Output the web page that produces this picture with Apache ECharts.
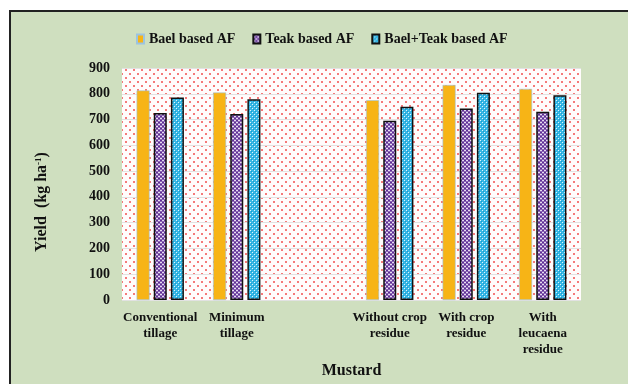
<!DOCTYPE html>
<html lang="en">
<head>
    <meta charset="UTF-8">
    <title>Mustard yield</title>
    <script src="https://cdn.jsdelivr.net/npm/echarts@6/dist/echarts.min.js"></script>
    <style>
        html, body { margin: 0; padding: 0; background: #fff; }
    </style>
</head>
<body>
<div id="echarts" style="width: 628px;height:384px"></div>
<script>
    // data
    var categories = ['Conventional\ntillage', 'Minimum\ntillage', '', 'Without crop\nresidue', 'With crop\nresidue', 'With\nleucaena\nresidue'];
    var baelAF = [813, 805, null, 775, 834, 819];
    var teakAF = [725, 722, null, 695, 743, 730];
    var baelTeakAF = [786, 779, null, 750, 804, 794];
    var yTicks = [0, 100, 200, 300, 400, 500, 600, 700, 800, 900];

    var serif = '"Liberation Serif", "Times New Roman", serif';

    function makePattern(w, h, bg, draw) {
        var c = document.createElement('canvas');
        c.width = w;
        c.height = h;
        var ctx = c.getContext('2d');
        ctx.fillStyle = bg;
        ctx.fillRect(0, 0, w, h);
        draw(ctx);
        return { image: c, repeat: 'repeat' };
    }

    // red dotted plot background
    var dots = makePattern(8, 8, '#fffcfc', function (ctx) {
        ctx.fillStyle = '#f47a7a';
        ctx.fillRect(1, 1, 2, 2);
        ctx.fillRect(5, 5, 2, 2);
    });

    // purple bar fill
    var purple = makePattern(4, 4, '#8c68b4', function (ctx) {
        ctx.fillStyle = '#5e2e96';
        ctx.fillRect(0, 0, 2, 1);
        ctx.fillRect(2, 2, 2, 1);
        ctx.fillStyle = '#e6dcf2';
        ctx.fillRect(2, 0, 2, 1);
        ctx.fillRect(0, 2, 2, 1);
    });

    // cyan bar fill
    var cyan = makePattern(4, 4, '#38b8e6', function (ctx) {
        ctx.fillStyle = '#e0f5fc';
        ctx.fillRect(0, 0, 1, 1);
        ctx.fillRect(2, 2, 1, 1);
        ctx.fillStyle = '#1a9ccc';
        ctx.fillRect(1, 1, 1, 1);
        ctx.fillRect(3, 3, 1, 1);
    });

    var chartDom = document.getElementById('echarts');
    var myChart = echarts.init(chartDom);
    var option;

    option = {
        backgroundColor: '#ffffff',
        animation: false,
        graphic: [
            {
                type: 'rect',
                z: -10,
                shape: { x: 10, y: 11, width: 640, height: 400 },
                style: { fill: '#cfdfbf', stroke: '#222222', lineWidth: 2 }
            },
            {
                type: 'text',
                x: 42,
                y: 202,
                rotation: Math.PI / 2,
                style: {
                    text: 'Yield  (kg ha{s|-1})',
                    align: 'center',
                    verticalAlign: 'middle',
                    fill: '#111',
                    font: 'bold 16px ' + serif,
                    rich: {
                        s: { fontSize: 9, fontWeight: 'bold', fontFamily: serif, verticalAlign: 'top', padding: [0, 0, 7, 0] }
                    }
                }
            }
        ],
        legend: {
            left: 131,
            top: 27,
            icon: 'rect',
            itemWidth: 7,
            itemHeight: 9,
            itemGap: 17,
            textStyle: { fontFamily: serif, fontWeight: 'bold', fontSize: 14, color: '#111' },
            data: ['Bael based AF', 'Teak based AF', 'Bael+Teak based AF']
        },
        grid: {
            left: 122,
            right: 47,
            top: 68,
            bottom: 79,
            show: true,
            borderWidth: 0,
            backgroundColor: dots
        },
        xAxis: {
            type: 'category',
            data: categories,
            axisLine: { show: false },
            axisTick: { show: false },
            axisLabel: {
                interval: 0,
                margin: 10,
                fontFamily: serif,
                fontWeight: 'bold',
                fontSize: 13,
                lineHeight: 16,
                color: '#111'
            },
            name: 'Mustard',
            nameLocation: 'middle',
            nameGap: 63,
            nameTextStyle: { fontFamily: serif, fontWeight: 'bold', fontSize: 16, color: '#111' }
        },
        yAxis: {
            type: 'value',
            min: yTicks[0],
            max: yTicks[yTicks.length - 1],
            interval: 100,
            axisLine: { show: false },
            axisTick: { show: false },
            axisLabel: {
                margin: 12,
                fontFamily: serif,
                fontWeight: 'bold',
                fontSize: 14,
                color: '#111'
            },
            splitLine: { lineStyle: { color: '#e2e2e2', width: 1 } }
        },
        series: [
            {
                name: 'Bael based AF',
                type: 'bar',
                barWidth: 13,
                barGap: '32%',
                data: baelAF,
                itemStyle: { color: '#f7b416', borderColor: '#9cc4e0', borderWidth: 0.6 }
            },
            {
                name: 'Teak based AF',
                type: 'bar',
                barWidth: 13,
                barGap: '32%',
                data: teakAF,
                itemStyle: { color: purple, borderColor: '#111', borderWidth: 1.5 }
            },
            {
                name: 'Bael+Teak based AF',
                type: 'bar',
                barWidth: 13,
                barGap: '32%',
                data: baelTeakAF,
                itemStyle: { color: cyan, borderColor: '#111', borderWidth: 1.5 }
            }
        ]
    };

    option && myChart.setOption(option);
</script>
</body>
</html>
